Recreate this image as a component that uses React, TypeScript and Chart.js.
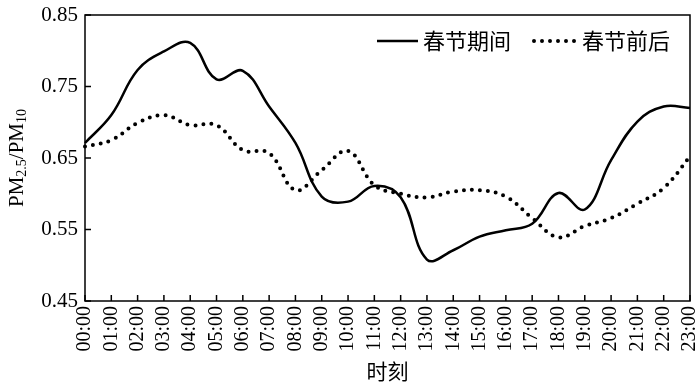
import React, { useEffect, useRef } from "react";
import { Chart, registerables } from "chart.js";

Chart.register(...registerables);

const hours = [
  "00:00", "01:00", "02:00", "03:00", "04:00", "05:00", "06:00", "07:00",
  "08:00", "09:00", "10:00", "11:00", "12:00", "13:00", "14:00", "15:00",
  "16:00", "17:00", "18:00", "19:00", "20:00", "21:00", "22:00", "23:00",
];

const duringFestival = [
  0.671, 0.71, 0.773, 0.799, 0.811, 0.76, 0.772, 0.722, 0.671, 0.596, 0.589, 0.611,
  0.595, 0.508, 0.521, 0.54, 0.549, 0.558, 0.601, 0.578, 0.647, 0.701, 0.722, 0.72,
];

const aroundFestival = [
  0.666, 0.675, 0.699, 0.71, 0.696, 0.696, 0.661, 0.657, 0.605, 0.633, 0.66, 0.612,
  0.6, 0.595, 0.603, 0.605, 0.596, 0.566, 0.539, 0.555, 0.566, 0.586, 0.608, 0.652,
];

const seriesNames = ["春节期间", "春节前后"];
const xTitle = "时刻";
const yTicks = [0.45, 0.55, 0.65, 0.75, 0.85];

const SERIF = "'Liberation Serif', 'Times New Roman', serif";
const CJK = "'Noto Sans CJK SC', sans-serif";

const framePlugin = {
  id: "frameAndText",
  afterDraw(chart: any) {
    const { ctx, chartArea } = chart;
    const { left, right, top, bottom } = chartArea;
    const xs = chart.scales.x;
    const ys = chart.scales.y;
    ctx.save();
    ctx.strokeStyle = "#000";
    ctx.lineWidth = 1.5;
    ctx.strokeRect(left, top, right - left, bottom - top);
    // inward ticks
    ctx.beginPath();
    for (let i = 0; i < hours.length; i++) {
      const x = xs.getPixelForValue(i);
      ctx.moveTo(x, bottom);
      ctx.lineTo(x, bottom - 6);
    }
    for (const v of yTicks) {
      const y = ys.getPixelForValue(v);
      ctx.moveTo(left, y);
      ctx.lineTo(left + 6, y);
    }
    ctx.stroke();

    // legend
    ctx.fillStyle = "#000";
    ctx.font = `22px ${CJK}`;
    ctx.textBaseline = "middle";
    ctx.textAlign = "left";
    const ly = 41;
    ctx.lineWidth = 2.5;
    ctx.beginPath();
    ctx.moveTo(377, ly);
    ctx.lineTo(418, ly);
    ctx.stroke();
    ctx.fillText(seriesNames[0], 423, ly);
    ctx.setLineDash([0, 8]);
    ctx.lineCap = "round";
    ctx.lineWidth = 4;
    ctx.beginPath();
    ctx.moveTo(534, ly);
    ctx.lineTo(578, ly);
    ctx.stroke();
    ctx.setLineDash([]);
    ctx.lineCap = "butt";
    ctx.fillText(seriesNames[1], 582, ly);

    // x title
    ctx.textAlign = "center";
    ctx.font = `21px ${CJK}`;
    ctx.fillText(xTitle, (left + right) / 2, 371);

    // y title with subscripts
    ctx.translate(17, (top + bottom) / 2);
    ctx.rotate(-Math.PI / 2);
    const big = `21px ${SERIF}`;
    const small = `14px ${SERIF}`;
    const parts = [
      { t: "PM", f: big, dy: 0 },
      { t: "2.5", f: small, dy: 5 },
      { t: "/PM", f: big, dy: 0 },
      { t: "10", f: small, dy: 5 },
    ];
    let total = 0;
    for (const p of parts) {
      ctx.font = p.f;
      total += ctx.measureText(p.t).width;
    }
    let cx = -total / 2;
    ctx.textAlign = "left";
    ctx.textBaseline = "middle";
    for (const p of parts) {
      ctx.font = p.f;
      ctx.fillText(p.t, cx, p.dy);
      cx += ctx.measureText(p.t).width;
    }
    ctx.restore();
  },
};

export default function App() {
  const ref = useRef<HTMLCanvasElement | null>(null);
  useEffect(() => {
    if (!ref.current) return;
    const chart = new Chart(ref.current, {
      type: "line",
      data: {
        labels: hours,
        datasets: [
          {
            label: seriesNames[0],
            data: duringFestival,
            borderColor: "#000",
            borderWidth: 2.5,
            pointRadius: 0,
            tension: 0.4,
            fill: false,
          },
          {
            label: seriesNames[1],
            data: aroundFestival,
            borderColor: "#000",
            borderWidth: 4,
            borderDash: [0, 8],
            borderCapStyle: "round",
            pointRadius: 0,
            tension: 0.4,
            fill: false,
          },
        ],
      },
      options: {
        animation: false,
        responsive: true,
        maintainAspectRatio: false,
        layout: { padding: { left: 0, right: 10, top: 15, bottom: 0 } },
        plugins: { legend: { display: false }, tooltip: { enabled: false } },
        scales: {
          x: {
            offset: false,
            grid: { display: false, drawTicks: false },
            border: { display: false },
            ticks: {
              color: "#000",
              font: { family: SERIF, size: 20 },
              maxRotation: 90,
              minRotation: 90,
              autoSkip: false,
              padding: 5,
            },
            afterFit(scale: any) {
              scale.height = 88;
              scale.paddingLeft = 0;
              scale.paddingRight = 0;
            },
          },
          y: {
            min: 0.45,
            max: 0.85,
            grid: { display: false, drawTicks: false },
            border: { display: false },
            ticks: {
              stepSize: 0.1,
              color: "#000",
              font: { family: SERIF, size: 21 },
              padding: 7,
              callback: (v: any) => Number(v).toFixed(2),
            },
            afterFit(scale: any) {
              scale.width = 85;
              scale.paddingTop = 0;
              scale.paddingBottom = 0;
            },
          },
        },
      },
      plugins: [framePlugin],
    });
    return () => chart.destroy();
  }, []);
  return (
    <div style={{ position: "absolute", left: 0, top: 0, width: 700, height: 389, background: "#fff" }}>
      <canvas ref={ref} />
    </div>
  );
}
